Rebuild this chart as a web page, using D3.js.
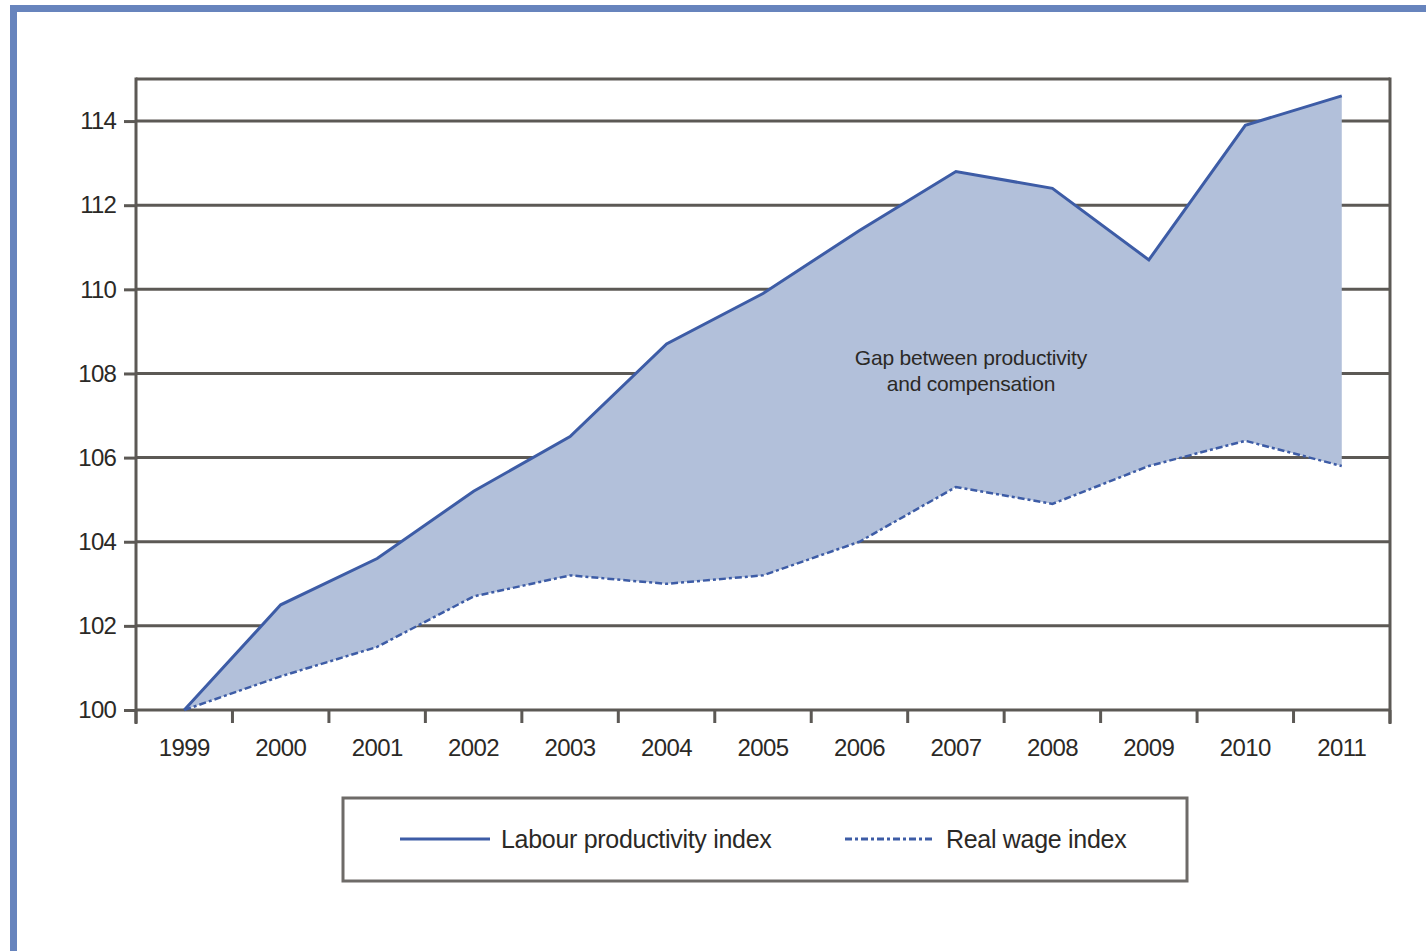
<!DOCTYPE html>
<html>
<head>
<meta charset="utf-8">
<script src="https://cdn.jsdelivr.net/npm/d3@7/dist/d3.min.js"></script>
<style>
  html, body { margin: 0; padding: 0; background: #fff; }
  svg { display: block; }
  text { font-family: "Liberation Sans", Arial, sans-serif; fill: #2b2926; }
</style>
</head>
<body>
<svg id="chart" width="1426" height="951"></svg>
<script>
// Years on the horizontal axis
const years = ["1999","2000","2001","2002","2003","2004","2005","2006","2007","2008","2009","2010","2011"];
// Index values, 1999 = 100
const productivity = [100, 102.5, 103.6, 105.2, 106.5, 108.7, 109.9, 111.4, 112.8, 112.4, 110.7, 113.9, 114.6];
const realWage = [100, 100.8, 101.5, 102.7, 103.2, 103.0, 103.2, 104.0, 105.3, 104.9, 105.8, 106.4, 105.8];
// Vertical axis ticks
const yTicks = [100, 102, 104, 106, 108, 110, 112, 114];
const seriesNames = ["Labour productivity index", "Real wage index"];
const gapLabel = ["Gap between productivity", "and compensation"];

const svg = d3.select("#chart");
const W = 1426, H = 951;
const plot = { left: 136, right: 1390, top: 79, bottom: 710 };

const lineColor = "#3d5ca6";
const fillColor = "#b2c0da";
const gridColor = "#5c5955";
const frameColor = "#6784bd";
const fontStack = "'Liberation Sans', Arial, sans-serif";

// Outer frame (top and left rules)
svg.append("rect").attr("x", 10).attr("y", 5).attr("width", W - 10).attr("height", 7).attr("fill", frameColor);
svg.append("rect").attr("x", 10).attr("y", 5).attr("width", 7).attr("height", H - 5).attr("fill", frameColor);

const x = d3.scaleBand().domain(years).range([plot.left, plot.right]).paddingInner(0).paddingOuter(0);
const y = d3.scaleLinear().domain([100, 115]).range([plot.bottom, plot.top]);
const xc = d => x(d) + x.bandwidth() / 2;

// Horizontal gridlines
svg.append("g").selectAll("line").data(yTicks).join("line")
  .attr("x1", plot.left).attr("x2", plot.right)
  .attr("y1", d => y(d)).attr("y2", d => y(d))
  .attr("stroke", gridColor).attr("stroke-width", 3);

// Top border
svg.append("line").attr("x1", plot.left).attr("x2", plot.right)
  .attr("y1", plot.top).attr("y2", plot.top)
  .attr("stroke", gridColor).attr("stroke-width", 3);

// Y axis
const yAxis = d3.axisLeft(y).tickValues(yTicks).tickSize(12).tickPadding(8).tickFormat(d3.format("d"));
const gy = svg.append("g").attr("transform", `translate(${plot.left},0)`).call(yAxis);
gy.select(".domain").remove();
gy.selectAll(".tick line").attr("stroke", gridColor).attr("stroke-width", 3);
gy.selectAll(".tick text").attr("font-size", 24).attr("letter-spacing", -0.8)
  .style("font-family", fontStack).attr("fill", "#2b2926");
svg.append("line").attr("x1", plot.left).attr("x2", plot.left)
  .attr("y1", plot.top - 1.5).attr("y2", plot.bottom + 14)
  .attr("stroke", gridColor).attr("stroke-width", 3);
svg.append("line").attr("x1", plot.right).attr("x2", plot.right)
  .attr("y1", plot.top - 1.5).attr("y2", plot.bottom + 14)
  .attr("stroke", gridColor).attr("stroke-width", 3);

// X axis: ticks on band boundaries, labels at band centres
const boundaries = years.map(d => x(d)).concat([plot.right]);
svg.append("g").selectAll("line").data(boundaries).join("line")
  .attr("x1", d => d).attr("x2", d => d)
  .attr("y1", plot.bottom).attr("y2", plot.bottom + 13)
  .attr("stroke", gridColor).attr("stroke-width", 3);
const xAxis = d3.axisBottom(x).tickSize(0).tickPadding(29);
const gx = svg.append("g").attr("transform", `translate(0,${plot.bottom})`).call(xAxis);
gx.select(".domain").remove();
gx.selectAll(".tick text").attr("font-size", 24).attr("letter-spacing", -0.6)
  .style("font-family", fontStack).attr("fill", "#2b2926");

// Gap area between the two series
const area = d3.area()
  .x((d, i) => xc(years[i]))
  .y0((d, i) => y(realWage[i]))
  .y1((d, i) => y(productivity[i]));
svg.append("path").datum(productivity).attr("d", area).attr("fill", fillColor);

// Series lines
const line = d3.line().x((d, i) => xc(years[i])).y(d => y(d));
svg.append("path").datum(realWage).attr("d", line)
  .attr("fill", "none").attr("stroke", lineColor).attr("stroke-width", 2.5)
  .attr("stroke-dasharray", "7,3,3,3");
svg.append("path").datum(productivity).attr("d", line)
  .attr("fill", "none").attr("stroke", lineColor).attr("stroke-width", 3);

// Annotation inside the gap
const ann = svg.append("text").attr("text-anchor", "middle").attr("font-size", 21).attr("letter-spacing", -0.2);
gapLabel.forEach((t, i) => {
  ann.append("tspan").attr("x", xc("2007") + 15).attr("y", 365 + i * 26).text(t);
});

// Legend
const legend = svg.append("g");
legend.append("rect").attr("x", 343).attr("y", 798).attr("width", 844).attr("height", 83)
  .attr("fill", "#fff").attr("stroke", "#6e6b68").attr("stroke-width", 3);
const legendItems = [
  { name: seriesNames[0], x0: 400, dash: null, sw: 3 },
  { name: seriesNames[1], x0: 845, dash: "7,3,3,3", sw: 3 }
];
legendItems.forEach(it => {
  legend.append("line").attr("x1", it.x0).attr("x2", it.x0 + 90).attr("y1", 839).attr("y2", 839)
    .attr("stroke", lineColor).attr("stroke-width", it.sw)
    .attr("stroke-dasharray", it.dash);
  legend.append("text").attr("x", it.x0 + 101).attr("y", 848).attr("font-size", 25)
    .attr("letter-spacing", -0.3).text(it.name);
});
</script>
</body>
</html>
